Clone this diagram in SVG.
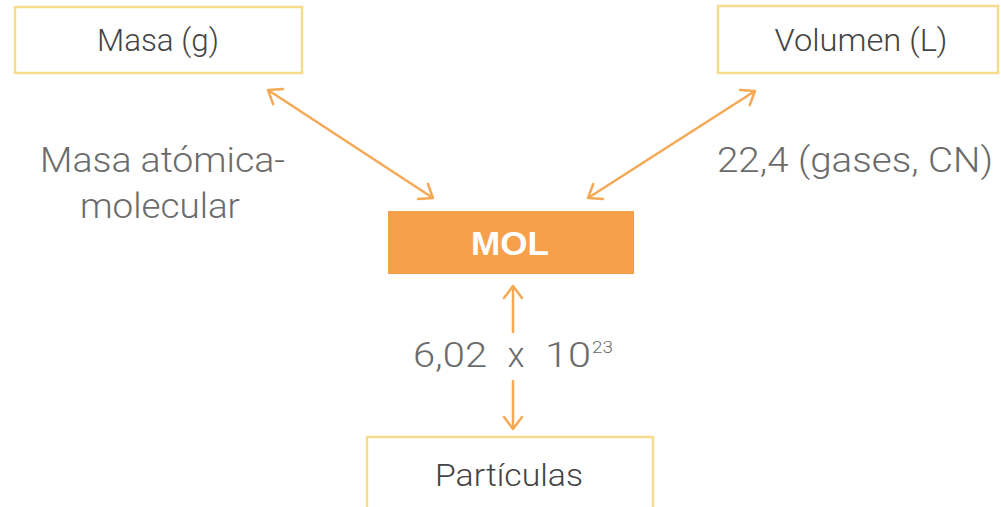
<svg xmlns="http://www.w3.org/2000/svg" width="1001" height="507" viewBox="0 0 1001 507">
  <style>
    .box { fill: #ffffff; stroke: #f6dc8c; stroke-width: 2.5; }
    .label { font-family: Roboto, "Liberation Sans", Arial, sans-serif; font-weight: 300; fill: #6b6b6b; }
    .boxtext { font-size: 31px; text-anchor: middle; fill: #444444; }
    .note { font-size: 35px; }
    .link { stroke: #f5a955; stroke-width: 2.5; fill: none; }
  </style>
  <defs>
    <marker id="head" markerUnits="userSpaceOnUse" markerWidth="22" markerHeight="22" viewBox="0 0 22 22" refX="19" refY="11" orient="auto-start-reverse">
      <path d="M7,2 L19,11 L7,20" fill="none" stroke="#f5a955" stroke-width="2.5" stroke-linecap="round" stroke-linejoin="round"/>
    </marker>
  </defs>

  <!-- connectors -->
  <g id="connectors">
    <line class="link" x1="268" y1="90" x2="433" y2="198" marker-start="url(#head)" marker-end="url(#head)"/>
    <line class="link" x1="755" y1="91" x2="588" y2="198" marker-start="url(#head)" marker-end="url(#head)"/>
    <line class="link" x1="513" y1="333" x2="513" y2="286" marker-end="url(#head)"/>
    <line class="link" x1="513" y1="380" x2="513" y2="429" marker-end="url(#head)"/>
  </g>

  <g id="masa">
    <rect class="box" x="15" y="7" width="287" height="66"/>
    <text class="label boxtext" x="158" y="51" textLength="122" lengthAdjust="spacingAndGlyphs">Masa (g)</text>
  </g>

  <g id="volumen">
    <rect class="box" x="718" y="6" width="280" height="67"/>
    <text class="label boxtext" x="861" y="51" textLength="173" lengthAdjust="spacingAndGlyphs">Volumen (L)</text>
  </g>

  <g id="mol">
    <rect x="388" y="211" width="246" height="63" fill="#f7a04b"/>
    <text x="510" y="255" font-family="Liberation Sans, Arial, sans-serif" font-weight="bold" font-size="33" fill="#ffffff" text-anchor="middle" textLength="78" lengthAdjust="spacingAndGlyphs">MOL</text>
  </g>

  <g id="particulas">
    <rect class="box" x="367" y="437" width="286" height="80"/>
    <text class="label boxtext" x="509" y="486" textLength="148" lengthAdjust="spacingAndGlyphs">Partículas</text>
  </g>

  <!-- relation labels -->
  <g id="masa-factor">
    <text class="label note" x="40" y="172" textLength="245" lengthAdjust="spacingAndGlyphs">Masa atómica-</text>
    <text class="label note" x="160" y="218" text-anchor="middle" textLength="160" lengthAdjust="spacingAndGlyphs">molecular</text>
  </g>

  <g id="volumen-factor">
    <text class="label note" x="717" y="172" textLength="276" lengthAdjust="spacingAndGlyphs">22,4 (gases, CN)</text>
  </g>

  <g id="particulas-factor">
    <rect x="400" y="336" width="225" height="42" fill="#ffffff"/>
    <text class="label note" x="413" y="367" textLength="74" lengthAdjust="spacingAndGlyphs">6,02</text>
    <text class="label note" x="516" y="367" text-anchor="middle" font-size="30">x</text>
    <text class="label note" x="545" y="367" textLength="46" lengthAdjust="spacingAndGlyphs">10</text>
    <text class="label" x="592" y="353" font-size="16" textLength="21" lengthAdjust="spacingAndGlyphs">23</text>
  </g>
</svg>
